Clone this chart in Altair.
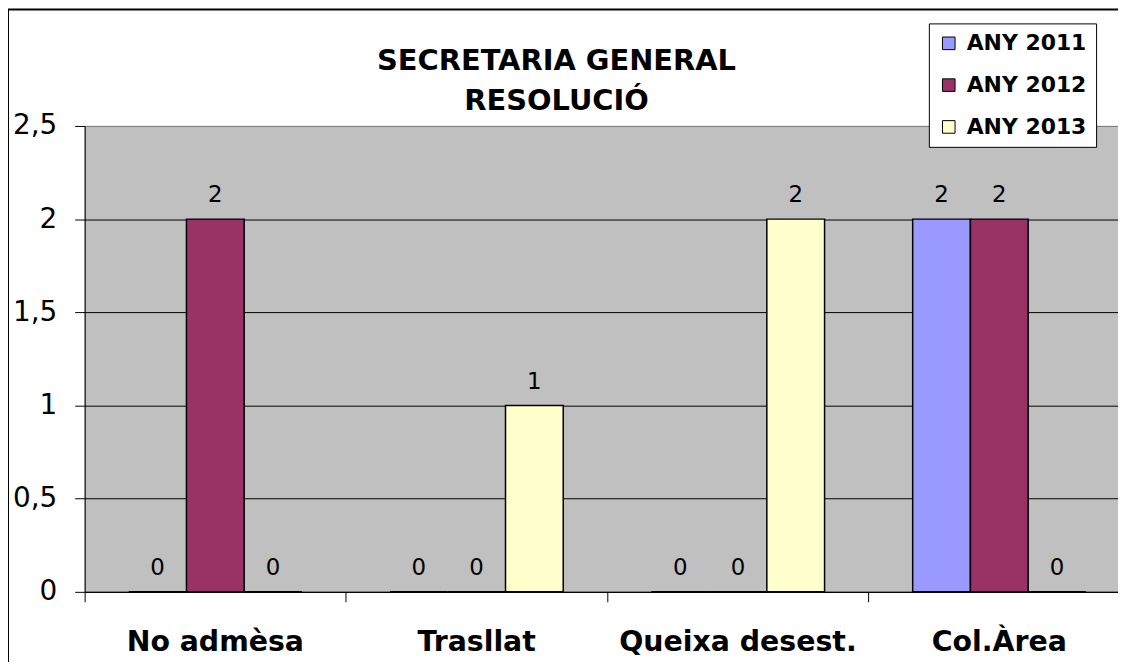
import altair as alt
import pandas as pd

categories = ["No admèsa", "Trasllat", "Queixa desest.", "Col.Àrea"]
series = ["ANY 2011", "ANY 2012", "ANY 2013"]
values_2011 = [0, 0, 0, 2]
values_2012 = [2, 0, 0, 2]
values_2013 = [0, 1, 2, 0]
colors = ["#9999FF", "#993366", "#FFFFCC"]
y_ticks = [0, 0.5, 1, 1.5, 2, 2.5]
title_lines = ["SECRETARIA GENERAL", "RESOLUCIÓ"]

rows = []
for s, vals in zip(series, [values_2011, values_2012, values_2013]):
    for c, v in zip(categories, vals):
        rows.append({"cat": c, "year": s, "value": v})
df = pd.DataFrame(rows)

FONT = "DejaVu Sans"

x_enc = alt.X(
    "cat:N", sort=categories,
    scale=alt.Scale(paddingInner=0, paddingOuter=0),
    axis=alt.Axis(
        title=None, bandPosition=0, tickExtra=False, labelAngle=0,
        labelFont=FONT, labelFontSize=28.5, labelFontWeight="bold",
        labelColor="black", labelPadding=26, tickSize=10, labelLimit=0,
        tickColor="black", domainColor="black", domainWidth=1, grid=False,
    ),
)
xoff_enc = alt.XOffset(
    "year:N", sort=series,
    scale=alt.Scale(paddingInner=0, paddingOuter=0.763),
)
y_enc = alt.Y(
    "value:Q",
    scale=alt.Scale(domain=[0, 2.5], nice=False),
    axis=alt.Axis(
        title=None, values=y_ticks, grid=True,
        gridColor={"condition": {"test": "datum.value == 2.5", "value": "#808080"}, "value": "black"},
        gridWidth=1, domainColor="black", domainWidth=1, tickColor="black",
        tickSize=10, labelFont=FONT, labelFontSize=28, labelColor="black",
        labelPadding=18, labelFlush=False,
        labelExpr="replace(format(datum.value, '.1~f'), '.', ',')",
    ),
)

bars = alt.Chart(df).mark_bar(stroke="black", strokeWidth=1.5).encode(
    x=x_enc,
    xOffset=xoff_enc,
    y=y_enc,
    color=alt.Color(
        "year:N", sort=series,
        scale=alt.Scale(domain=series, range=colors),
        legend=alt.Legend(
            title=None, orient="none", legendX=848, legendY=-103,
            fillColor="white", strokeColor="black", padding=9,
            symbolType="square", symbolSize=160, symbolStrokeColor="black",
            symbolStrokeWidth=1, symbolOpacity=1,
            labelFont=FONT, labelFontSize=22, labelFontWeight="bold",
            labelColor="black", labelOffset=7, rowPadding=20,
        ),
    ),
)

labels = alt.Chart(df).mark_text(
    baseline="bottom", dy=-12, font=FONT, fontSize=23, color="black"
).encode(
    x=alt.X("cat:N", sort=categories),
    xOffset=alt.XOffset("year:N", sort=series),
    y=alt.Y("value:Q"),
    text=alt.Text("value:Q", format="d"),
)

one = alt.Data(values=[{"f": 1}])

frame = alt.Chart(one).mark_rect(
    fill=None, stroke="black", strokeWidth=2
).encode(
    x=alt.value(-77), x2=alt.value(1300),
    y=alt.value(-117), y2=alt.value(800),
)

title1 = alt.Chart(one).mark_text(
    font=FONT, fontSize=29, fontWeight="bold", color="black", baseline="middle"
).encode(x=alt.value(474), y=alt.value(-65), text=alt.value(title_lines[0]))

title2 = alt.Chart(one).mark_text(
    font=FONT, fontSize=29, fontWeight="bold", color="black", baseline="middle"
).encode(x=alt.value(474), y=alt.value(-25), text=alt.value(title_lines[1]))

chart = alt.layer(bars, labels, frame, title1, title2).properties(
    width=1050, height=468,
    autosize=alt.AutoSizeParams(type="none"),
    padding={"left": 77, "top": 117, "right": -12, "bottom": 69},
    background="white",
).configure_view(
    fill="#C0C0C0", stroke="#808080", strokeWidth=1
)

chart.save("out.html", embed_options={"renderer": "svg", "actions": False})
